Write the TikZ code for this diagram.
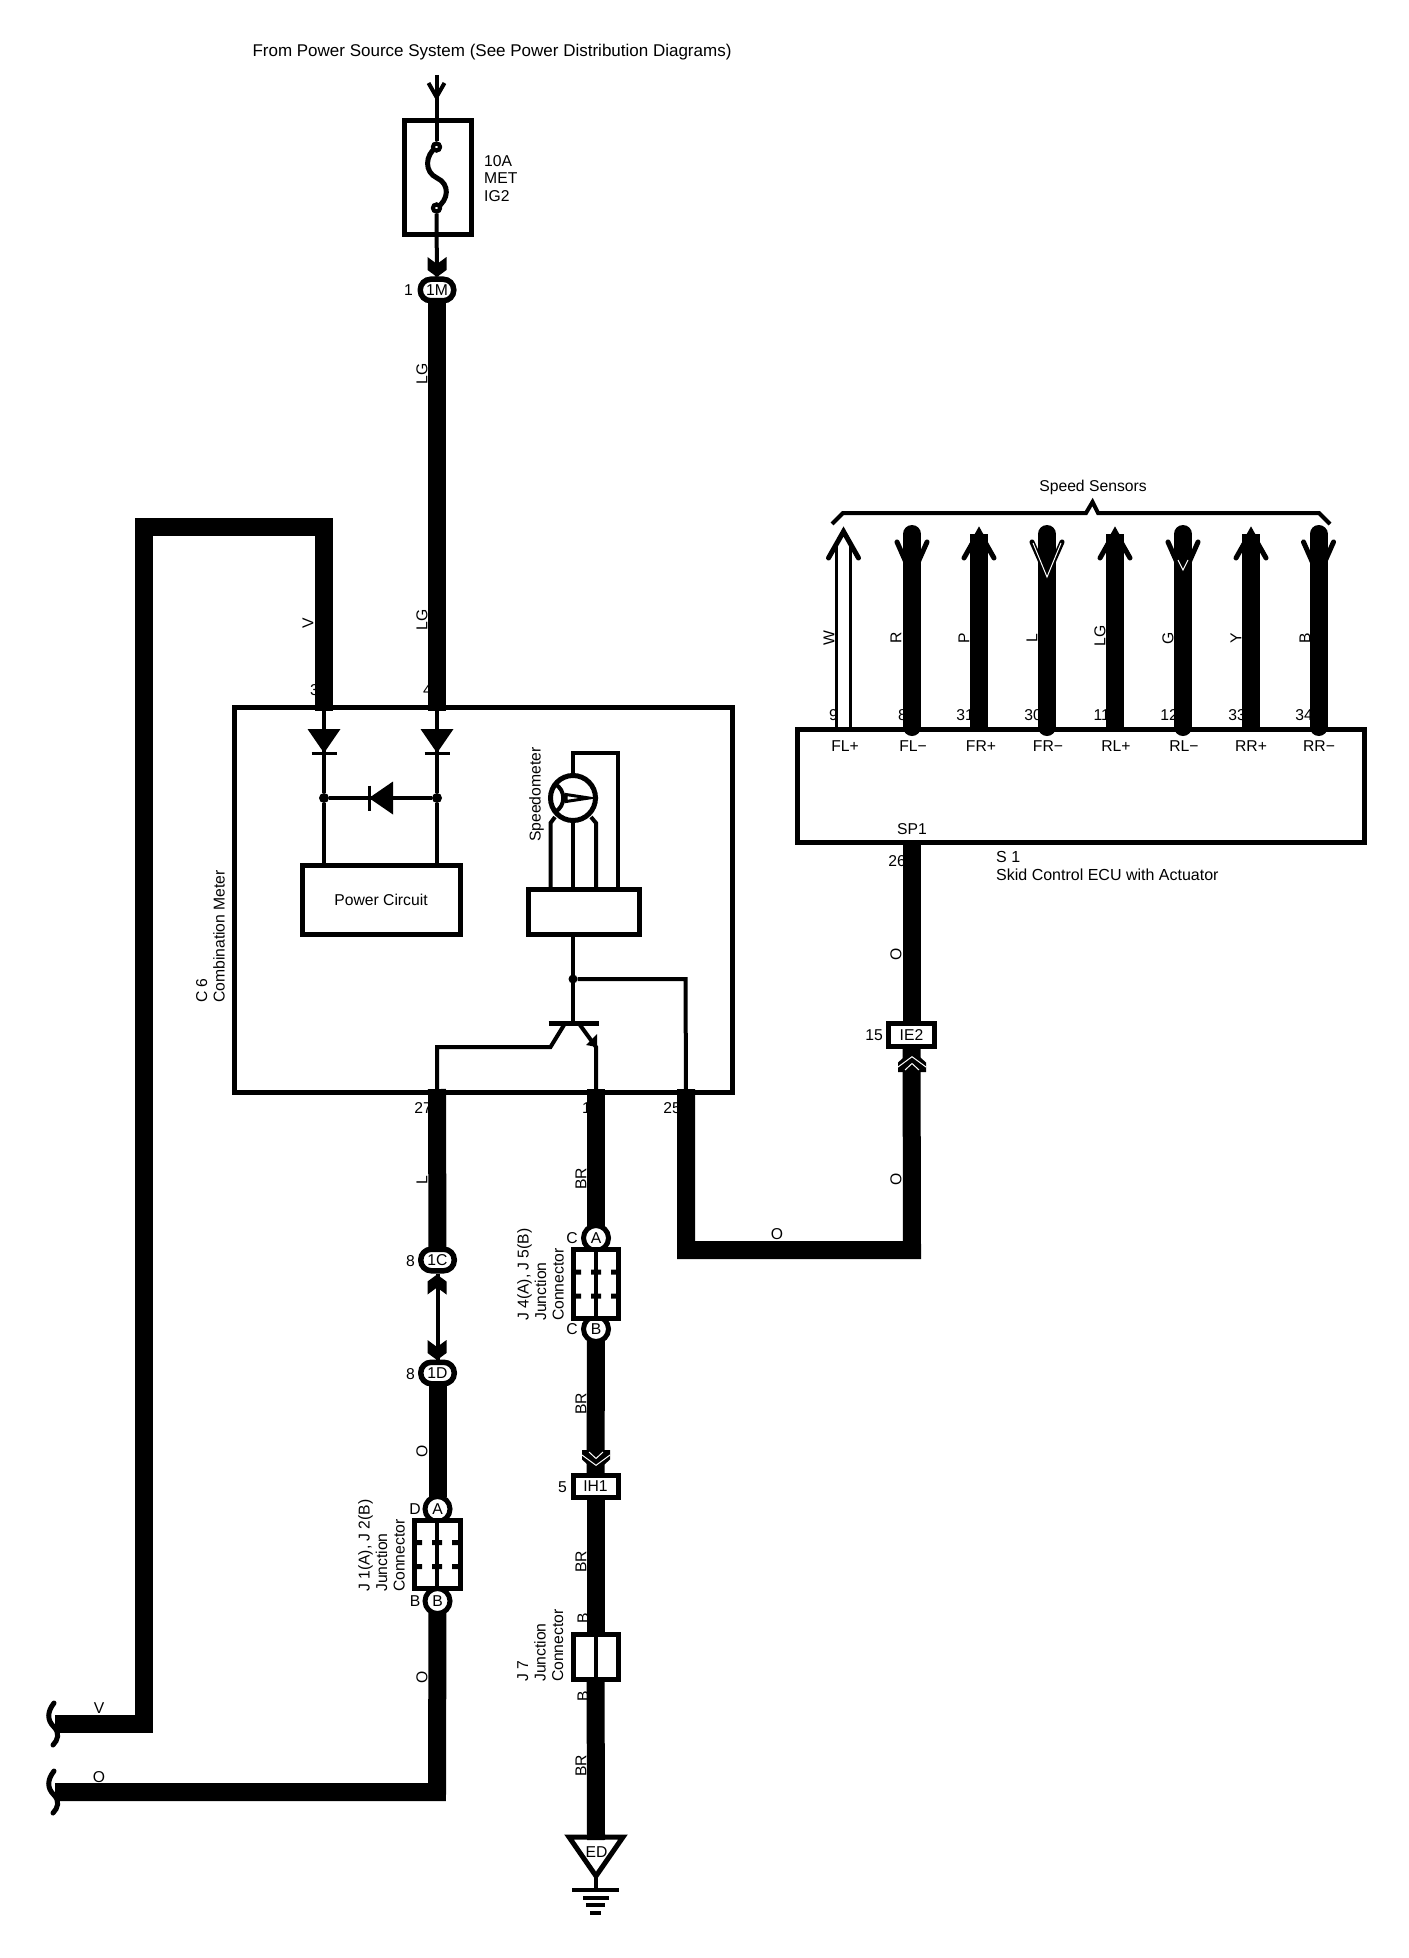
\documentclass[tikz,border=0pt]{standalone}
\usepackage{fontspec}
\setmainfont{Liberation Sans}

\tikzset{
    lab/.style={inner sep=0pt, font=\fontsize{15.7}{17.5}\selectfont},
    vlab/.style={lab, rotate=90},
    stack/.style={vlab, anchor=north west, align=left},
    sense/.style={line width=18pt},
    wire/.style={sense, shorten <=-3pt, shorten >=-3pt},
    wirewhite/.style={line width=3pt, double=white, double distance=11pt},
    lead/.style={line width=4pt},
    heavy/.style={line width=5pt},
    box/.style={lab, draw, heavy, fill=white, rectangle},
    oval/.style={lab, draw, line width=5.5pt, fill=white, rectangle, rounded corners=10.5pt, minimum width=33.5pt, minimum height=21.5pt},
    ring/.style={lab, draw, heavy, fill=white, circle, minimum size=25pt},
    joint/.style={fill, circle, inner sep=0pt, minimum size=10pt},
    eyelet/.style={circle, draw, lead, fill=white, inner sep=0pt, minimum size=7pt},
    chev/.pic={\fill (-9.5,-10) -- (0,-3) -- (9.5,-10) -- (9.5,3) -- (0,10) -- (-9.5,3) -- cycle;},
    dblchev/.pic={\fill (0,0) -- (14,12.5) -- (14,22) -- (-14,22) -- (-14,12.5) -- cycle;
        \draw[white, line width=1pt] (-14,17) -- (0,6.7) -- (14,17);
        \draw[white, line width=1pt] (-7,20) -- (0,13.5) -- (7,20);},
    tipup/.pic={\draw[heavy, line cap=round] (-15,33) -- (0,6.5) -- (15,33);},
    tipfull/.pic={\fill (0,2) -- (11,27) -- (-11,27) -- cycle;
        \draw[heavy, line cap=round] (-15,33) -- (0,6.5) -- (15,33);},
    tipin/.pic={\draw[heavy, line cap=round] (-15,17) -- (0,51) -- (15,17);},
    diode/.pic={\fill (-16.5,-24) -- (16.5,-24) -- (0,0) -- cycle;
        \draw[line width=3pt] (-12.5,0) -- (12.5,0);},
    jcon/.pic={\draw[lead] (0,-34) -- (0,34);
        \fill (-21,-14.5) rectangle (-15,-9.5) (-5,-14.5) rectangle (5,-9.5) (15,-14.5) rectangle (21,-9.5)
            (-21,9.5) rectangle (-15,14.5) (-5,9.5) rectangle (5,14.5) (15,9.5) rectangle (21,14.5);},
    wirebrk/.pic={\draw[heavy, line cap=round] (0,-21) .. controls (-7,-12) and (-7,-4) .. (0,3) .. controls (6,9) and (4,16) .. (-1,21);},
}

\begin{document}
\begin{tikzpicture}[x=1pt, y=-1pt]
    \useasboundingbox (0,0) rectangle (1408,1958);

    \node[lab, font=\fontsize{17}{19}\selectfont] (srcnote) at (492,52) {From Power Source System (See Power Distribution Diagrams)};
    \node[lab, anchor=north west, align=left] (fusenote) at (484,155) {10A\\MET\\IG2};
    \node[lab, anchor=east] (n1m) at (413,290) {1};
    \node[vlab] (clg1) at (422,374) {LG};
    \node[vlab] (cv1) at (308,623) {V};
    \node[vlab] (clg2) at (422,620) {LG};
    \node[lab, anchor=east] (n3) at (319,690) {3};
    \node[lab, anchor=east] (n4) at (432,690) {4};
    \node[stack] (metername) at (196,1003) {C 6\\Combination Meter};
    \node[vlab, anchor=south west] (spdname) at (544,842) {Speedometer};
    \node[lab, anchor=east] (n27) at (432,1108) {27};
    \node[lab, anchor=east] (n1) at (591,1108) {1};
    \node[lab, anchor=east] (n25) at (681,1108) {25};
    \node[vlab] (cl) at (422,1180) {L};
    \node[vlab] (cbr1) at (581,1179) {BR};
    \node[lab, anchor=east] (n1c) at (415,1261) {8};
    \node[lab, anchor=east] (n1d) at (415,1374) {8};
    \node[vlab] (co1) at (422,1451) {O};
    \node[vlab] (cbr2) at (581,1404) {BR};
    \node[lab] (nd) at (415,1509) {D};
    \node[lab] (nb) at (415,1601) {B};
    \node[lab] (nc1) at (572,1238) {C};
    \node[lab] (nc2) at (572,1329) {C};
    \node[lab, anchor=east] (nih) at (567,1487) {5};
    \node[stack] (j1name) at (358,1592) {J 1(A), J 2(B)\\Junction\\Connector};
    \node[stack] (j4name) at (517,1321) {J 4(A), J 5(B)\\Junction\\Connector};
    \node[stack] (j7name) at (517,1682) {J 7\\Junction\\Connector};
    \node[vlab] (cbr3) at (581,1562) {BR};
    \node[vlab] (nb1) at (583,1618) {B};
    \node[vlab] (nb2) at (583,1696) {B};
    \node[vlab] (cbr4) at (581,1766) {BR};
    \node[vlab] (co2) at (422,1677) {O};
    \node[lab] (cv2) at (99,1708) {V};
    \node[lab] (co3) at (99,1777) {O};
    \node[lab] (co4) at (777,1234) {O};
    \node[vlab] (co5) at (896,954) {O};
    \node[vlab] (co6) at (896,1179) {O};
    \node[lab, anchor=east] (nie) at (883,1035) {15};
    \node[lab, anchor=east] (n26) at (906,861) {26};
    \node[lab] (sensnote) at (1093,487) {Speed Sensors};
    \node[lab, font=\fontsize{16}{18.5}\selectfont, anchor=north west, align=left] (ecuname) at (996,851) {S 1\\Skid Control ECU with Actuator};

    \node[vlab] (cw) at (829,638) {W};
    \node[vlab] (cr) at (896,638) {R};
    \node[vlab] (cp) at (964,638) {P};
    \node[vlab] (cl2) at (1032,638) {L};
    \node[vlab] (clg3) at (1100,636) {LG};
    \node[vlab] (cg) at (1168,638) {G};
    \node[vlab] (cy) at (1236,638) {Y};
    \node[vlab] (cb) at (1305,638) {B};
    \node[lab, anchor=east] (n9) at (838,715) {9};
    \node[lab, anchor=east] (n8) at (907,715) {8};
    \node[lab, anchor=east] (n31) at (974,715) {31};
    \node[lab, anchor=east] (n30) at (1042,715) {30};
    \node[lab, anchor=east] (n11) at (1110,715) {11};
    \node[lab, anchor=east] (n12) at (1178,715) {12};
    \node[lab, anchor=east] (n33) at (1246,715) {33};
    \node[lab, anchor=east] (n34) at (1313,715) {34};

    \node[box, minimum width=67pt, minimum height=114pt] (fuse) at (437.5,177.5) {};
    \node[eyelet] (fc1) at (436.5,147) {};
    \node[eyelet] (fc2) at (436.5,208) {};
    \node[oval] (o1m) at (437,290) {1M};
    \node[box, minimum width=497.5pt, minimum height=385pt, fill=none] (combo) at (483.5,900) {};
    \node[box, minimum width=158pt, minimum height=69pt] (pwr) at (381,900) {Power Circuit};
    \node[box, minimum width=111pt, minimum height=45pt] (drv) at (584,912) {};
    \node[circle, draw, heavy, fill=white, inner sep=0pt, minimum size=45pt] (spd) at (573,798) {};
    \node[box, minimum width=567pt, minimum height=113pt, fill=none] (ecu) at (1081,786) {};
    \node[lab] (fl1) at (845,746) {FL+};
    \node[lab] (fl2) at (913,746) {FL−};
    \node[lab] (fr1) at (981,746) {FR+};
    \node[lab] (fr2) at (1048,746) {FR−};
    \node[lab] (rl1) at (1116,746) {RL+};
    \node[lab] (rl2) at (1184,746) {RL−};
    \node[lab] (rr1) at (1251,746) {RR+};
    \node[lab] (rr2) at (1319,746) {RR−};
    \node[lab] (sp1) at (912,829) {SP1};
    \node[oval] (o1c) at (437.5,1260) {1C};
    \node[oval] (o1d) at (437.5,1373) {1D};
    \node[ring] (ca1) at (437.5,1509) {A};
    \node[ring] (cb1) at (437.5,1601) {B};
    \node[box, minimum width=46pt, minimum height=68pt] (j1) at (437.5,1554.5) {};
    \node[ring] (ca4) at (596,1238) {A};
    \node[ring] (cb4) at (596,1329) {B};
    \node[box, minimum width=45pt, minimum height=69pt] (j4) at (595.5,1284) {};
    \node[box, minimum width=45pt, minimum height=22pt] (ih1) at (595.5,1486.5) {IH1};
    \node[box, minimum width=45pt, minimum height=45pt] (j7) at (595.5,1656.5) {};
    \node[box, minimum width=45.5pt, minimum height=23pt] (ie2) at (911.5,1035) {IE2};

    \coordinate (srctop) at (436.5,75);
    \coordinate (pin3) at (324,708);
    \coordinate (pin4) at (437,708);
    \coordinate (pin27) at (437,1092);
    \coordinate (pin1) at (596,1092);
    \coordinate (pin25) at (686,1092);
    \coordinate (vend) at (58,1724);
    \coordinate (oend) at (58,1792);
    \coordinate (edtop) at (596,1837);
    \coordinate (gnd) at (596,1890);
    \coordinate (tfl1) at (843.5,545);
    \coordinate (tfl2) at (912,534);
    \coordinate (tfr1) at (979,534);
    \coordinate (tfr2) at (1047,534);
    \coordinate (trl1) at (1115,534);
    \coordinate (trl2) at (1183,534);
    \coordinate (trr1) at (1251,534);
    \coordinate (trr2) at (1318.5,534);
    \coordinate (j3) at (573,979);

    \draw[lead] (srctop) -- (fc1);
    \draw[lead] (fc2) -- (o1m);
    \draw[heavy] (fc1.center) .. controls (425,155) and (424,172) .. (437,178) .. controls (450,184) and (449,200) .. (fc2.center);
    \node[eyelet] (fc1b) at (fc1) {};
    \node[eyelet] (fc2b) at (fc2) {};
    \draw[lead] (428.5,83) -- (436.5,97) -- (444.5,83);
    \pic at (437,267) {chev};

    \draw[wire] (o1m) -- (pin4);
    \draw[wire] (vend) -- (144,1724) -- (144,527) -- (324,527) -- (pin3);
    \draw[wire] (pin27) -- (o1c);
    \draw[wire] (o1d) -- (ca1);
    \draw[wire] (cb1) -- (437,1792) -- (oend);
    \draw[wire] (pin1) -- (ca4);
    \draw[wire] (cb4) -- (ih1);
    \draw[wire] (ih1) -- (j7);
    \draw[wire] (j7) -- (edtop);
    \draw[wire] (pin25) -- (686,1250) -- (912,1250) -- (ie2);
    \draw[wire] (ecu.south -| ie2) -- (ie2);
    \draw[lead] (o1c) -- (o1d);
    \pic[yscale=-1] at (437,1284.5) {chev};
    \pic at (437,1350) {chev};
    \pic[yscale=-1] at (596,1472) {dblchev};
    \pic at (912,1050) {dblchev};
    \pic at (54,1724) {wirebrk};
    \pic at (54,1792) {wirebrk};

    \draw[wirewhite] (ecu.north -| tfl1) -- (tfl1);
    \draw[sense, line cap=round] (ecu.north -| tfl2) -- (tfl2);
    \draw[sense] (ecu.north -| tfr1) -- (tfr1);
    \draw[sense, line cap=round] (ecu.north -| tfr2) -- (tfr2);
    \draw[sense] (ecu.north -| trl1) -- (trl1);
    \draw[sense, line cap=round] (ecu.north -| trl2) -- (trl2);
    \draw[sense] (ecu.north -| trr1) -- (trr1);
    \draw[sense, line cap=round] (ecu.north -| trr2) -- (trr2);
    \pic at (843.5,525) {tipup};
    \pic at (912,525) {tipin};
    \pic at (979,525) {tipfull};
    \pic at (1047,525) {tipin};
    \pic at (1115,525) {tipfull};
    \pic at (1183,525) {tipin};
    \pic at (1251,525) {tipfull};
    \pic at (1318.5,525) {tipin};
    \draw[white, line width=1pt] (1033,543) -- (1047,577) -- (1061,543);
    \draw[white, line width=1pt] (1178,560) -- (1183,570) -- (1188,560);
    \draw[lead] (832,524) -- (843,513) -- (1086,513) -- (1092.5,502) -- (1098,513) -- (1319,513) -- (1330,524);

    \node[joint] (j1a) at (324,798) {};
    \node[joint] (j2a) at (437,798) {};
    \draw[lead] (pin3) -- (j1a);
    \draw[lead] (pin4) -- (j2a);
    \draw[lead] (j1a) -- (j1a |- pwr.north);
    \draw[lead] (j2a) -- (j2a |- pwr.north);
    \draw[lead] (j1a) -- (j2a);
    \pic at (324,753) {diode};
    \pic at (437,753) {diode};
    \pic[rotate=-90] at (369,798) {diode};

    \draw[lead] (spd) -- (spd |- drv.north);
    \draw[lead] (spd.north) -- (573,753) -- (617.5,753) -- (617.5,887);
    \draw[lead] (550.5,887) -- (550.5,823) -- (555,817);
    \draw[lead] (596,887) -- (596,823) -- (591,817);
    \draw[lead] (555,784) .. controls (566,790) and (566,806) .. (555,812);
    \draw[line width=3pt] (566,794.5) -- (589,798) -- (566,801.5) -- cycle;
    \node[joint, minimum size=9pt] (j3b) at (j3) {};
    \draw[lead] (drv.south -| j3) -- (573,1023);
    \draw[lead] (j3b) -- (685.5,979) -- (pin25);
    \draw[heavy] (548.5,1023) -- (598.5,1023);
    \draw[lead] (pin27) -- (437,1047) -- (550.5,1047) -- (564,1025);
    \draw[lead] (580,1025) -- (596,1047) -- (pin1);
    \fill (586,1045) -- (597,1034) -- (597,1047) -- cycle;

    \pic at (437,1554.5) {jcon};
    \pic at (596,1284) {jcon};
    \draw[lead] (595.5,1632) -- (595.5,1681);
    \draw[heavy] (edtop) ++(-27,0) -- ++(54,0) -- (596,1876) -- cycle;
    \node[lab] (edtxt) at (596.5,1852) {ED};
    \draw[lead] (596,1876) -- (gnd);
    \draw[lead] (572,1890) -- (619,1890);
    \draw[lead] (583,1897.5) -- (609,1897.5);
    \draw[lead] (586,1905) -- (605,1905);
    \draw[lead] (590,1913) -- (601,1913);
\end{tikzpicture}
\end{document}
